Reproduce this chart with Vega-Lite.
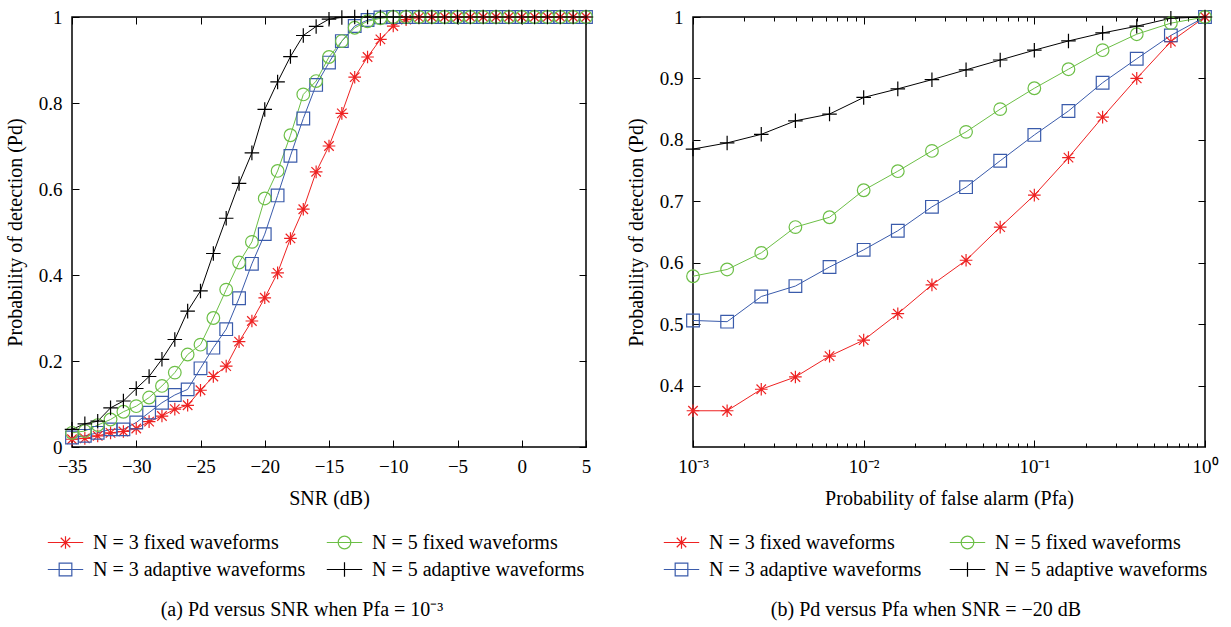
{
"$schema": "https://vega.github.io/schema/vega-lite/v6.json",
"padding": {"left": 4, "top": 6, "right": 0, "bottom": 0},
"config": {
  "font": "Liberation Serif",
  "view": {"stroke": "#000", "strokeWidth": 1.5},
  "axis": {"domain": false, "grid": false, "tickColor": "#000", "tickSize": -7, "tickWidth": 1, "labelFont": "Liberation Serif", "labelFontSize": 19, "labelColor": "#000", "labelFlush": false, "titleFont": "Liberation Serif", "titleFontSize": 20, "titleFontWeight": "normal", "titleColor": "#000"},
  "legend": {"labelFont": "Liberation Serif", "labelFontSize": 20, "labelColor": "#000", "padding": 0, "labelLimit": 400},
  "title": {"font": "Liberation Serif", "fontSize": 20, "fontWeight": "normal", "color": "#000"}
},
"resolve": {"scale": {"color": "independent", "shape": "independent"}, "legend": {"color": "independent", "shape": "independent"}},
"datasets": {
  "left": [
    {"snr":-35,"series":"N = 3 fixed waveforms","pd":0.018},{"snr":-34,"series":"N = 3 fixed waveforms","pd":0.020},{"snr":-33,"series":"N = 3 fixed waveforms","pd":0.026},{"snr":-32,"series":"N = 3 fixed waveforms","pd":0.033},{"snr":-31,"series":"N = 3 fixed waveforms","pd":0.036},{"snr":-30,"series":"N = 3 fixed waveforms","pd":0.043},{"snr":-29,"series":"N = 3 fixed waveforms","pd":0.059},{"snr":-28,"series":"N = 3 fixed waveforms","pd":0.072},{"snr":-27,"series":"N = 3 fixed waveforms","pd":0.088},{"snr":-26,"series":"N = 3 fixed waveforms","pd":0.097},{"snr":-25,"series":"N = 3 fixed waveforms","pd":0.132},{"snr":-24,"series":"N = 3 fixed waveforms","pd":0.164},{"snr":-23,"series":"N = 3 fixed waveforms","pd":0.188},{"snr":-22,"series":"N = 3 fixed waveforms","pd":0.245},{"snr":-21,"series":"N = 3 fixed waveforms","pd":0.293},{"snr":-20,"series":"N = 3 fixed waveforms","pd":0.347},{"snr":-19,"series":"N = 3 fixed waveforms","pd":0.405},{"snr":-18,"series":"N = 3 fixed waveforms","pd":0.485},{"snr":-17,"series":"N = 3 fixed waveforms","pd":0.553},{"snr":-16,"series":"N = 3 fixed waveforms","pd":0.640},{"snr":-15,"series":"N = 3 fixed waveforms","pd":0.700},{"snr":-14,"series":"N = 3 fixed waveforms","pd":0.776},{"snr":-13,"series":"N = 3 fixed waveforms","pd":0.860},{"snr":-12,"series":"N = 3 fixed waveforms","pd":0.907},{"snr":-11,"series":"N = 3 fixed waveforms","pd":0.948},{"snr":-10,"series":"N = 3 fixed waveforms","pd":0.979},{"snr":-9,"series":"N = 3 fixed waveforms","pd":0.994},{"snr":-8,"series":"N = 3 fixed waveforms","pd":0.999},{"snr":-7,"series":"N = 3 fixed waveforms","pd":1},{"snr":-6,"series":"N = 3 fixed waveforms","pd":1},{"snr":-5,"series":"N = 3 fixed waveforms","pd":1},{"snr":-4,"series":"N = 3 fixed waveforms","pd":1},{"snr":-3,"series":"N = 3 fixed waveforms","pd":1},{"snr":-2,"series":"N = 3 fixed waveforms","pd":1},{"snr":-1,"series":"N = 3 fixed waveforms","pd":1},{"snr":0,"series":"N = 3 fixed waveforms","pd":1},{"snr":1,"series":"N = 3 fixed waveforms","pd":1},{"snr":2,"series":"N = 3 fixed waveforms","pd":1},{"snr":3,"series":"N = 3 fixed waveforms","pd":1},{"snr":4,"series":"N = 3 fixed waveforms","pd":1},{"snr":5,"series":"N = 3 fixed waveforms","pd":1},
    {"snr":-35,"series":"N = 3 adaptive waveforms","pd":0.022},{"snr":-34,"series":"N = 3 adaptive waveforms","pd":0.026},{"snr":-33,"series":"N = 3 adaptive waveforms","pd":0.033},{"snr":-32,"series":"N = 3 adaptive waveforms","pd":0.041},{"snr":-31,"series":"N = 3 adaptive waveforms","pd":0.041},{"snr":-30,"series":"N = 3 adaptive waveforms","pd":0.057},{"snr":-29,"series":"N = 3 adaptive waveforms","pd":0.080},{"snr":-28,"series":"N = 3 adaptive waveforms","pd":0.103},{"snr":-27,"series":"N = 3 adaptive waveforms","pd":0.121},{"snr":-26,"series":"N = 3 adaptive waveforms","pd":0.134},{"snr":-25,"series":"N = 3 adaptive waveforms","pd":0.183},{"snr":-24,"series":"N = 3 adaptive waveforms","pd":0.231},{"snr":-23,"series":"N = 3 adaptive waveforms","pd":0.274},{"snr":-22,"series":"N = 3 adaptive waveforms","pd":0.346},{"snr":-21,"series":"N = 3 adaptive waveforms","pd":0.426},{"snr":-20,"series":"N = 3 adaptive waveforms","pd":0.495},{"snr":-19,"series":"N = 3 adaptive waveforms","pd":0.585},{"snr":-18,"series":"N = 3 adaptive waveforms","pd":0.677},{"snr":-17,"series":"N = 3 adaptive waveforms","pd":0.764},{"snr":-16,"series":"N = 3 adaptive waveforms","pd":0.842},{"snr":-15,"series":"N = 3 adaptive waveforms","pd":0.894},{"snr":-14,"series":"N = 3 adaptive waveforms","pd":0.944},{"snr":-13,"series":"N = 3 adaptive waveforms","pd":0.979},{"snr":-12,"series":"N = 3 adaptive waveforms","pd":0.993},{"snr":-11,"series":"N = 3 adaptive waveforms","pd":0.999},{"snr":-10,"series":"N = 3 adaptive waveforms","pd":1},{"snr":-9,"series":"N = 3 adaptive waveforms","pd":1},{"snr":-8,"series":"N = 3 adaptive waveforms","pd":1},{"snr":-7,"series":"N = 3 adaptive waveforms","pd":1},{"snr":-6,"series":"N = 3 adaptive waveforms","pd":1},{"snr":-5,"series":"N = 3 adaptive waveforms","pd":1},{"snr":-4,"series":"N = 3 adaptive waveforms","pd":1},{"snr":-3,"series":"N = 3 adaptive waveforms","pd":1},{"snr":-2,"series":"N = 3 adaptive waveforms","pd":1},{"snr":-1,"series":"N = 3 adaptive waveforms","pd":1},{"snr":0,"series":"N = 3 adaptive waveforms","pd":1},{"snr":1,"series":"N = 3 adaptive waveforms","pd":1},{"snr":2,"series":"N = 3 adaptive waveforms","pd":1},{"snr":3,"series":"N = 3 adaptive waveforms","pd":1},{"snr":4,"series":"N = 3 adaptive waveforms","pd":1},{"snr":5,"series":"N = 3 adaptive waveforms","pd":1},
    {"snr":-35,"series":"N = 5 fixed waveforms","pd":0.033},{"snr":-34,"series":"N = 5 fixed waveforms","pd":0.037},{"snr":-33,"series":"N = 5 fixed waveforms","pd":0.051},{"snr":-32,"series":"N = 5 fixed waveforms","pd":0.064},{"snr":-31,"series":"N = 5 fixed waveforms","pd":0.082},{"snr":-30,"series":"N = 5 fixed waveforms","pd":0.095},{"snr":-29,"series":"N = 5 fixed waveforms","pd":0.115},{"snr":-28,"series":"N = 5 fixed waveforms","pd":0.142},{"snr":-27,"series":"N = 5 fixed waveforms","pd":0.173},{"snr":-26,"series":"N = 5 fixed waveforms","pd":0.215},{"snr":-25,"series":"N = 5 fixed waveforms","pd":0.238},{"snr":-24,"series":"N = 5 fixed waveforms","pd":0.300},{"snr":-23,"series":"N = 5 fixed waveforms","pd":0.366},{"snr":-22,"series":"N = 5 fixed waveforms","pd":0.429},{"snr":-21,"series":"N = 5 fixed waveforms","pd":0.477},{"snr":-20,"series":"N = 5 fixed waveforms","pd":0.578},{"snr":-19,"series":"N = 5 fixed waveforms","pd":0.642},{"snr":-18,"series":"N = 5 fixed waveforms","pd":0.725},{"snr":-17,"series":"N = 5 fixed waveforms","pd":0.820},{"snr":-16,"series":"N = 5 fixed waveforms","pd":0.851},{"snr":-15,"series":"N = 5 fixed waveforms","pd":0.907},{"snr":-14,"series":"N = 5 fixed waveforms","pd":0.944},{"snr":-13,"series":"N = 5 fixed waveforms","pd":0.975},{"snr":-12,"series":"N = 5 fixed waveforms","pd":0.990},{"snr":-11,"series":"N = 5 fixed waveforms","pd":0.997},{"snr":-10,"series":"N = 5 fixed waveforms","pd":1},{"snr":-9,"series":"N = 5 fixed waveforms","pd":1},{"snr":-8,"series":"N = 5 fixed waveforms","pd":1},{"snr":-7,"series":"N = 5 fixed waveforms","pd":1},{"snr":-6,"series":"N = 5 fixed waveforms","pd":1},{"snr":-5,"series":"N = 5 fixed waveforms","pd":1},{"snr":-4,"series":"N = 5 fixed waveforms","pd":1},{"snr":-3,"series":"N = 5 fixed waveforms","pd":1},{"snr":-2,"series":"N = 5 fixed waveforms","pd":1},{"snr":-1,"series":"N = 5 fixed waveforms","pd":1},{"snr":0,"series":"N = 5 fixed waveforms","pd":1},{"snr":1,"series":"N = 5 fixed waveforms","pd":1},{"snr":2,"series":"N = 5 fixed waveforms","pd":1},{"snr":3,"series":"N = 5 fixed waveforms","pd":1},{"snr":4,"series":"N = 5 fixed waveforms","pd":1},{"snr":5,"series":"N = 5 fixed waveforms","pd":1},
    {"snr":-35,"series":"N = 5 adaptive waveforms","pd":0.041},{"snr":-34,"series":"N = 5 adaptive waveforms","pd":0.054},{"snr":-33,"series":"N = 5 adaptive waveforms","pd":0.060},{"snr":-32,"series":"N = 5 adaptive waveforms","pd":0.091},{"snr":-31,"series":"N = 5 adaptive waveforms","pd":0.107},{"snr":-30,"series":"N = 5 adaptive waveforms","pd":0.136},{"snr":-29,"series":"N = 5 adaptive waveforms","pd":0.164},{"snr":-28,"series":"N = 5 adaptive waveforms","pd":0.204},{"snr":-27,"series":"N = 5 adaptive waveforms","pd":0.250},{"snr":-26,"series":"N = 5 adaptive waveforms","pd":0.316},{"snr":-25,"series":"N = 5 adaptive waveforms","pd":0.363},{"snr":-24,"series":"N = 5 adaptive waveforms","pd":0.450},{"snr":-23,"series":"N = 5 adaptive waveforms","pd":0.532},{"snr":-22,"series":"N = 5 adaptive waveforms","pd":0.613},{"snr":-21,"series":"N = 5 adaptive waveforms","pd":0.684},{"snr":-20,"series":"N = 5 adaptive waveforms","pd":0.785},{"snr":-19,"series":"N = 5 adaptive waveforms","pd":0.849},{"snr":-18,"series":"N = 5 adaptive waveforms","pd":0.908},{"snr":-17,"series":"N = 5 adaptive waveforms","pd":0.957},{"snr":-16,"series":"N = 5 adaptive waveforms","pd":0.978},{"snr":-15,"series":"N = 5 adaptive waveforms","pd":0.995},{"snr":-14,"series":"N = 5 adaptive waveforms","pd":0.999},{"snr":-13,"series":"N = 5 adaptive waveforms","pd":1},{"snr":-12,"series":"N = 5 adaptive waveforms","pd":1},{"snr":-11,"series":"N = 5 adaptive waveforms","pd":1},{"snr":-10,"series":"N = 5 adaptive waveforms","pd":1},{"snr":-9,"series":"N = 5 adaptive waveforms","pd":1},{"snr":-8,"series":"N = 5 adaptive waveforms","pd":1},{"snr":-7,"series":"N = 5 adaptive waveforms","pd":1},{"snr":-6,"series":"N = 5 adaptive waveforms","pd":1},{"snr":-5,"series":"N = 5 adaptive waveforms","pd":1},{"snr":-4,"series":"N = 5 adaptive waveforms","pd":1},{"snr":-3,"series":"N = 5 adaptive waveforms","pd":1},{"snr":-2,"series":"N = 5 adaptive waveforms","pd":1},{"snr":-1,"series":"N = 5 adaptive waveforms","pd":1},{"snr":0,"series":"N = 5 adaptive waveforms","pd":1},{"snr":1,"series":"N = 5 adaptive waveforms","pd":1},{"snr":2,"series":"N = 5 adaptive waveforms","pd":1},{"snr":3,"series":"N = 5 adaptive waveforms","pd":1},{"snr":4,"series":"N = 5 adaptive waveforms","pd":1},{"snr":5,"series":"N = 5 adaptive waveforms","pd":1}
  ],
  "right": [
    {"pfa":0.001,"series":"N = 3 fixed waveforms","pd":0.359},{"pfa":0.0015849,"series":"N = 3 fixed waveforms","pd":0.359},{"pfa":0.0025119,"series":"N = 3 fixed waveforms","pd":0.394},{"pfa":0.0039811,"series":"N = 3 fixed waveforms","pd":0.414},{"pfa":0.0063096,"series":"N = 3 fixed waveforms","pd":0.448},{"pfa":0.01,"series":"N = 3 fixed waveforms","pd":0.474},{"pfa":0.015849,"series":"N = 3 fixed waveforms","pd":0.517},{"pfa":0.025119,"series":"N = 3 fixed waveforms","pd":0.564},{"pfa":0.039811,"series":"N = 3 fixed waveforms","pd":0.604},{"pfa":0.063096,"series":"N = 3 fixed waveforms","pd":0.658},{"pfa":0.1,"series":"N = 3 fixed waveforms","pd":0.710},{"pfa":0.15849,"series":"N = 3 fixed waveforms","pd":0.771},{"pfa":0.25119,"series":"N = 3 fixed waveforms","pd":0.837},{"pfa":0.39811,"series":"N = 3 fixed waveforms","pd":0.900},{"pfa":0.63096,"series":"N = 3 fixed waveforms","pd":0.960},{"pfa":1,"series":"N = 3 fixed waveforms","pd":1.0},
    {"pfa":0.001,"series":"N = 3 adaptive waveforms","pd":0.506},{"pfa":0.0015849,"series":"N = 3 adaptive waveforms","pd":0.504},{"pfa":0.0025119,"series":"N = 3 adaptive waveforms","pd":0.545},{"pfa":0.0039811,"series":"N = 3 adaptive waveforms","pd":0.562},{"pfa":0.0063096,"series":"N = 3 adaptive waveforms","pd":0.593},{"pfa":0.01,"series":"N = 3 adaptive waveforms","pd":0.621},{"pfa":0.015849,"series":"N = 3 adaptive waveforms","pd":0.652},{"pfa":0.025119,"series":"N = 3 adaptive waveforms","pd":0.691},{"pfa":0.039811,"series":"N = 3 adaptive waveforms","pd":0.723},{"pfa":0.063096,"series":"N = 3 adaptive waveforms","pd":0.766},{"pfa":0.1,"series":"N = 3 adaptive waveforms","pd":0.808},{"pfa":0.15849,"series":"N = 3 adaptive waveforms","pd":0.847},{"pfa":0.25119,"series":"N = 3 adaptive waveforms","pd":0.893},{"pfa":0.39811,"series":"N = 3 adaptive waveforms","pd":0.932},{"pfa":0.63096,"series":"N = 3 adaptive waveforms","pd":0.970},{"pfa":1,"series":"N = 3 adaptive waveforms","pd":1.0},
    {"pfa":0.001,"series":"N = 5 fixed waveforms","pd":0.578},{"pfa":0.0015849,"series":"N = 5 fixed waveforms","pd":0.589},{"pfa":0.0025119,"series":"N = 5 fixed waveforms","pd":0.616},{"pfa":0.0039811,"series":"N = 5 fixed waveforms","pd":0.658},{"pfa":0.0063096,"series":"N = 5 fixed waveforms","pd":0.674},{"pfa":0.01,"series":"N = 5 fixed waveforms","pd":0.718},{"pfa":0.015849,"series":"N = 5 fixed waveforms","pd":0.749},{"pfa":0.025119,"series":"N = 5 fixed waveforms","pd":0.782},{"pfa":0.039811,"series":"N = 5 fixed waveforms","pd":0.813},{"pfa":0.063096,"series":"N = 5 fixed waveforms","pd":0.850},{"pfa":0.1,"series":"N = 5 fixed waveforms","pd":0.884},{"pfa":0.15849,"series":"N = 5 fixed waveforms","pd":0.915},{"pfa":0.25119,"series":"N = 5 fixed waveforms","pd":0.946},{"pfa":0.39811,"series":"N = 5 fixed waveforms","pd":0.972},{"pfa":0.63096,"series":"N = 5 fixed waveforms","pd":0.990},{"pfa":1,"series":"N = 5 fixed waveforms","pd":1.0},
    {"pfa":0.001,"series":"N = 5 adaptive waveforms","pd":0.785},{"pfa":0.0015849,"series":"N = 5 adaptive waveforms","pd":0.795},{"pfa":0.0025119,"series":"N = 5 adaptive waveforms","pd":0.809},{"pfa":0.0039811,"series":"N = 5 adaptive waveforms","pd":0.831},{"pfa":0.0063096,"series":"N = 5 adaptive waveforms","pd":0.842},{"pfa":0.01,"series":"N = 5 adaptive waveforms","pd":0.869},{"pfa":0.015849,"series":"N = 5 adaptive waveforms","pd":0.883},{"pfa":0.025119,"series":"N = 5 adaptive waveforms","pd":0.898},{"pfa":0.039811,"series":"N = 5 adaptive waveforms","pd":0.914},{"pfa":0.063096,"series":"N = 5 adaptive waveforms","pd":0.930},{"pfa":0.1,"series":"N = 5 adaptive waveforms","pd":0.946},{"pfa":0.15849,"series":"N = 5 adaptive waveforms","pd":0.961},{"pfa":0.25119,"series":"N = 5 adaptive waveforms","pd":0.974},{"pfa":0.39811,"series":"N = 5 adaptive waveforms","pd":0.985},{"pfa":0.63096,"series":"N = 5 adaptive waveforms","pd":0.998},{"pfa":1,"series":"N = 5 adaptive waveforms","pd":1.0}
  ]
},
"spacing": 28,
"hconcat": [
  {
    "width": 514, "height": 430,
    "data": {"name": "left"},
    "title": {"text": "(a)  Pd versus SNR when Pfa = 10⁻³", "orient": "bottom", "anchor": "middle", "dx": -27, "offset": 20},
    "layer": [
      {
        "mark": {"type": "line", "strokeWidth": 1},
        "encoding": {
          "x": {"field": "snr", "type": "quantitative", "scale": {"domain": [-35, 5], "nice": false, "zero": false},
                "axis": {"orient": "bottom", "values": [-35,-30,-25,-20,-15,-10,-5,0,5], "title": "SNR (dB)", "labelPadding": 17, "titlePadding": 12}},
          "y": {"field": "pd", "type": "quantitative", "scale": {"domain": [0, 1], "nice": false},
                "axis": {"orient": "left", "values": [0,0.2,0.4,0.6,0.8,1], "format": "~g", "title": "Probability of detection (Pd)", "labelPadding": 17, "titlePadding": 13}},
          "color": {"field": "series", "type": "nominal",
                "scale": {"domain": ["N = 3 fixed waveforms","N = 3 adaptive waveforms","N = 5 fixed waveforms","N = 5 adaptive waveforms"], "range": ["#ee2222","#3a5bab","#6cbf46","#000000"]},
                "legend": {"orient": "none", "legendX": -16.5, "legendY": 515.5, "columns": 2, "title": null, "labelOffset": 17.5, "columnPadding": 18, "rowPadding": 7, "symbolSize": 160, "symbolStrokeWidth": 1.2,
                  "encode": {"symbols": {"update": {"fill": {"value": "transparent"}, "shape": {"signal": "datum.value === 'N = 3 fixed waveforms' ? 'M-2.8,0L2.8,0M0,-1L0,1M-0.75,-0.75L0.75,0.75M-0.75,0.75L0.75,-0.75' : datum.value === 'N = 5 fixed waveforms' ? 'M-2.8,0L2.8,0M-1,0A1,1,0,1,1,1,0A1,1,0,1,1,-1,0' : datum.value === 'N = 3 adaptive waveforms' ? 'M-2.8,0L2.8,0M-1,-1L1,-1L1,1L-1,1Z' : 'M-2.8,0L2.8,0M0,-1.15L0,1.15'"}}}}}}
        }
      },
      {
        "mark": {"type": "point", "filled": false, "size": 160, "strokeWidth": 1.2, "opacity": 1},
        "encoding": {
          "x": {"field": "snr", "type": "quantitative", "scale": {"domain": [-35, 5], "nice": false, "zero": false},
                "axis": {"orient": "top", "values": [-35,-30,-25,-20,-15,-10,-5,0,5], "labels": false, "title": null}},
          "y": {"field": "pd", "type": "quantitative", "scale": {"domain": [0, 1], "nice": false},
                "axis": {"orient": "right", "values": [0,0.2,0.4,0.6,0.8,1], "labels": false, "title": null}},
          "color": {"field": "series", "type": "nominal",
                "scale": {"domain": ["N = 3 fixed waveforms","N = 3 adaptive waveforms","N = 5 fixed waveforms","N = 5 adaptive waveforms"], "range": ["#ee2222","#3a5bab","#6cbf46","#000000"]},
                "legend": {"orient": "none", "legendX": -16.5, "legendY": 515.5, "columns": 2, "title": null, "labelOffset": 17.5, "columnPadding": 18, "rowPadding": 7, "symbolSize": 160, "symbolStrokeWidth": 1.2,
                  "encode": {"symbols": {"update": {"fill": {"value": "transparent"}, "shape": {"signal": "datum.value === 'N = 3 fixed waveforms' ? 'M-2.8,0L2.8,0M0,-1L0,1M-0.75,-0.75L0.75,0.75M-0.75,0.75L0.75,-0.75' : datum.value === 'N = 5 fixed waveforms' ? 'M-2.8,0L2.8,0M-1,0A1,1,0,1,1,1,0A1,1,0,1,1,-1,0' : datum.value === 'N = 3 adaptive waveforms' ? 'M-2.8,0L2.8,0M-1,-1L1,-1L1,1L-1,1Z' : 'M-2.8,0L2.8,0M0,-1.15L0,1.15'"}}}}}},
          "shape": {"field": "series", "type": "nominal",
                "scale": {"domain": ["N = 5 adaptive waveforms","N = 5 fixed waveforms","N = 3 adaptive waveforms","N = 3 fixed waveforms"], "range": ["M-1.15,0L1.15,0M0,-1.15L0,1.15","circle","square","M-1,0L1,0M0,-1L0,1M-0.75,-0.75L0.75,0.75M-0.75,0.75L0.75,-0.75"]},
                "legend": null}
        }
      }
    ],
    "resolve": {"axis": {"x": "independent", "y": "independent"}}
  },
  {
    "width": 512, "height": 430,
    "data": {"name": "right"},
    "title": {"text": "(b)  Pd versus Pfa when SNR = −20 dB", "orient": "bottom", "anchor": "middle", "dx": -23, "offset": 20},
    "layer": [
      {
        "mark": {"type": "line", "strokeWidth": 1},
        "encoding": {
          "x": {"field": "pfa", "type": "quantitative", "scale": {"type": "log", "domain": [0.001, 1], "nice": false},
                "axis": {"orient": "bottom", "values": [0.001,0.002,0.003,0.004,0.005,0.006,0.007,0.008,0.009,0.01,0.02,0.03,0.04,0.05,0.06,0.07,0.08,0.09,0.1,0.2,0.3,0.4,0.5,0.6,0.7,0.8,0.9,1],
                  "labelExpr": "datum.value == 0.001 ? '10⁻³' : datum.value == 0.01 ? '10⁻²' : datum.value == 0.1 ? '10⁻¹' : datum.value == 1 ? '10⁰' : ''",
                  "tickSize": {"condition": {"test": "datum.value == 0.001 || datum.value == 0.01 || datum.value == 0.1 || datum.value == 1", "value": -7}, "value": -4},
                  "title": "Probability of false alarm (Pfa)", "labelPadding": 17, "titlePadding": 12}},
          "y": {"field": "pd", "type": "quantitative", "scale": {"domain": [0.3, 1], "nice": false, "zero": false},
                "axis": {"orient": "left", "values": [0.4,0.5,0.6,0.7,0.8,0.9,1], "format": "~g", "title": "Probability of detection (Pd)", "labelPadding": 17, "titlePadding": 13}},
          "color": {"field": "series", "type": "nominal",
                "scale": {"domain": ["N = 3 fixed waveforms","N = 3 adaptive waveforms","N = 5 fixed waveforms","N = 5 adaptive waveforms"], "range": ["#ee2222","#3a5bab","#6cbf46","#000000"]},
                "legend": {"orient": "none", "legendX": -21.5, "legendY": 515.5, "columns": 2, "title": null, "labelOffset": 17.5, "columnPadding": 25, "rowPadding": 7, "symbolSize": 160, "symbolStrokeWidth": 1.2,
                  "encode": {"symbols": {"update": {"fill": {"value": "transparent"}, "shape": {"signal": "datum.value === 'N = 3 fixed waveforms' ? 'M-2.8,0L2.8,0M0,-1L0,1M-0.75,-0.75L0.75,0.75M-0.75,0.75L0.75,-0.75' : datum.value === 'N = 5 fixed waveforms' ? 'M-2.8,0L2.8,0M-1,0A1,1,0,1,1,1,0A1,1,0,1,1,-1,0' : datum.value === 'N = 3 adaptive waveforms' ? 'M-2.8,0L2.8,0M-1,-1L1,-1L1,1L-1,1Z' : 'M-2.8,0L2.8,0M0,-1.15L0,1.15'"}}}}}}
        }
      },
      {
        "mark": {"type": "point", "filled": false, "size": 160, "strokeWidth": 1.2, "opacity": 1},
        "encoding": {
          "x": {"field": "pfa", "type": "quantitative", "scale": {"type": "log", "domain": [0.001, 1], "nice": false},
                "axis": {"orient": "top", "values": [0.001,0.002,0.003,0.004,0.005,0.006,0.007,0.008,0.009,0.01,0.02,0.03,0.04,0.05,0.06,0.07,0.08,0.09,0.1,0.2,0.3,0.4,0.5,0.6,0.7,0.8,0.9,1], "labels": false, "title": null,
                  "tickSize": {"condition": {"test": "datum.value == 0.001 || datum.value == 0.01 || datum.value == 0.1 || datum.value == 1", "value": -7}, "value": -4}}},
          "y": {"field": "pd", "type": "quantitative", "scale": {"domain": [0.3, 1], "nice": false, "zero": false},
                "axis": {"orient": "right", "values": [0.4,0.5,0.6,0.7,0.8,0.9,1], "labels": false, "title": null}},
          "color": {"field": "series", "type": "nominal",
                "scale": {"domain": ["N = 3 fixed waveforms","N = 3 adaptive waveforms","N = 5 fixed waveforms","N = 5 adaptive waveforms"], "range": ["#ee2222","#3a5bab","#6cbf46","#000000"]},
                "legend": {"orient": "none", "legendX": -21.5, "legendY": 515.5, "columns": 2, "title": null, "labelOffset": 17.5, "columnPadding": 25, "rowPadding": 7, "symbolSize": 160, "symbolStrokeWidth": 1.2,
                  "encode": {"symbols": {"update": {"fill": {"value": "transparent"}, "shape": {"signal": "datum.value === 'N = 3 fixed waveforms' ? 'M-2.8,0L2.8,0M0,-1L0,1M-0.75,-0.75L0.75,0.75M-0.75,0.75L0.75,-0.75' : datum.value === 'N = 5 fixed waveforms' ? 'M-2.8,0L2.8,0M-1,0A1,1,0,1,1,1,0A1,1,0,1,1,-1,0' : datum.value === 'N = 3 adaptive waveforms' ? 'M-2.8,0L2.8,0M-1,-1L1,-1L1,1L-1,1Z' : 'M-2.8,0L2.8,0M0,-1.15L0,1.15'"}}}}}},
          "shape": {"field": "series", "type": "nominal",
                "scale": {"domain": ["N = 5 adaptive waveforms","N = 5 fixed waveforms","N = 3 adaptive waveforms","N = 3 fixed waveforms"], "range": ["M-1.15,0L1.15,0M0,-1.15L0,1.15","circle","square","M-1,0L1,0M0,-1L0,1M-0.75,-0.75L0.75,0.75M-0.75,0.75L0.75,-0.75"]},
                "legend": null}
        }
      }
    ],
    "resolve": {"axis": {"x": "independent", "y": "independent"}}
  }
]
}
